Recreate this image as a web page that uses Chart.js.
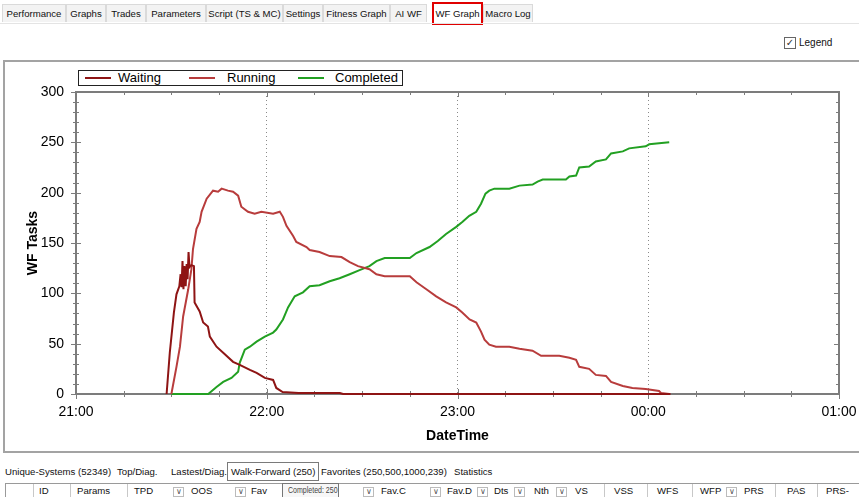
<!DOCTYPE html>
<html>
<head>
<meta charset="utf-8">
<script src="https://cdn.jsdelivr.net/npm/chart.js@4.4.1/dist/chart.umd.min.js"></script>
<style>
  html, body { margin: 0; padding: 0; background: #fff; }
  body { width: 859px; height: 497px; position: relative; overflow: hidden; font-family: "Liberation Sans", Arial, sans-serif; font-size: 9.6px; color: #111; }
  div, span { white-space: nowrap; }
  .abs { position: absolute; }
  .tab { position: absolute; top: 4px; height: 18px; line-height: 18px; background: #f3f3f3; border: 1px solid #dadada; border-bottom: none; box-sizing: border-box; text-align: center; }
  .tab.sel { background: #fff; border: 2px solid #e00000; top: 2px; height: 23px; line-height: 20px; }
  #panel { position: absolute; left: 3px; top: 60px; width: 900px; height: 393px; border: 2px solid #a3a3a3; box-sizing: border-box; }
  #chart { position: absolute; left: 4px; top: 62px; }
  #legend { position: absolute; left: 78px; top: 70px; width: 325px; height: 16px; border: 1px solid #222; box-sizing: border-box; background: #fff; font-family: "Liberation Sans", Arial, sans-serif; font-size: 13px; color: #000; }
  #legend .ln { position: absolute; top: 6px; height: 2px; width: 26px; }
  #legend .lt { position: absolute; top: -1px; line-height: 16px; }
  .btab { position: absolute; top: 462px; height: 19px; line-height: 19px; }
  .btab.sel { border: 1px solid #7a7a7a; box-sizing: border-box; padding: 0 3px; line-height: 17px; }
  .hd { position: absolute; top: 485px; line-height: 12px; }
  .dd { position: absolute; top: 487px; width: 11px; height: 10px; border: 1px solid #bbb; box-sizing: border-box; font-size: 8px; line-height: 8px; text-align: center; color: #555; }
  .sep { position: absolute; top: 484px; width: 1px; height: 13px; background: #c8c8c8; }
  #tip { position: absolute; left: 282px; top: 483px; width: 57px; height: 16px; border: 1px solid #767676; background: #f7f7f7; box-sizing: border-box; overflow: hidden; }
  #tip span { position: absolute; left: 5px; top: 0; font-size: 9px; line-height: 12px; color: #444; transform: scaleX(0.78); transform-origin: 0 0; }
</style>
</head>
<body>
<div class="tab" style="left:2px;width:64px">Performance</div>
<div class="tab" style="left:66px;width:40px">Graphs</div>
<div class="tab" style="left:106px;width:40px">Trades</div>
<div class="tab" style="left:146px;width:60px">Parameters</div>
<div class="tab" style="left:206px;width:77px">Script (TS &amp; MC)</div>
<div class="tab" style="left:283px;width:40px">Settings</div>
<div class="tab" style="left:323px;width:67px">Fitness Graph</div>
<div class="tab" style="left:390px;width:37px">AI WF</div>
<div class="tab sel" style="left:432px;width:51px">WF Graph</div>
<div class="tab" style="left:483px;width:50px">Macro Log</div>
<div class="abs" style="left:0;top:23px;width:859px;height:1px;background:#e4e4e4"></div>

<div class="abs" style="left:784px;top:37px;width:12px;height:12px;border:1px solid #666;box-sizing:border-box;font-family:'DejaVu Sans';font-size:10px;line-height:10px;text-align:center;color:#333">&#10003;</div>
<div class="abs" style="left:799px;top:35px;line-height:16px;font-size:10px">Legend</div>

<div id="panel"></div>
<canvas id="chart" width="855" height="392"></canvas>
<div id="legend">
  <span class="ln" style="left:6px;background:#8e1414"></span><span class="lt" style="left:39px">Waiting</span>
  <span class="ln" style="left:110px;background:#b83c3c"></span><span class="lt" style="left:148px">Running</span>
  <span class="ln" style="left:219px;background:#22a022"></span><span class="lt" style="left:256px">Completed</span>
</div>

<div class="btab" style="left:5px">Unique-Systems (52349)</div>
<div class="btab" style="left:117px">Top/Diag.</div>
<div class="btab" style="left:171px">Lastest/Diag.</div>
<div class="btab sel" style="left:227px">Walk-Forward (250)</div>
<div class="btab" style="left:321px">Favorites (250,500,1000,239)</div>
<div class="btab" style="left:454px">Statistics</div>

<div class="abs" style="left:5px;top:483px;width:860px;height:1px;background:#9a9a9a"></div>
<div class="abs" style="left:5px;top:483px;width:1px;height:14px;background:#9a9a9a"></div>
<div class="sep" style="left:33px"></div><div class="hd" style="left:39px">ID</div>
<div class="sep" style="left:70px"></div><div class="hd" style="left:77px">Params</div>
<div class="sep" style="left:127px"></div><div class="hd" style="left:134px">TPD</div>
<div class="dd" style="left:173px">&#8744;</div><div class="hd" style="left:191px">OOS</div>
<div class="dd" style="left:235px">&#8744;</div><div class="hd" style="left:251px">Fav</div>
<div class="dd" style="left:363px">&#8744;</div><div class="hd" style="left:381px">Fav.C</div>
<div class="dd" style="left:430px">&#8744;</div><div class="hd" style="left:447px">Fav.D</div>
<div class="dd" style="left:477px">&#8744;</div><div class="hd" style="left:494px">Dts</div>
<div class="dd" style="left:514px">&#8744;</div><div class="hd" style="left:534px">Nth</div>
<div class="dd" style="left:556px">&#8744;</div><div class="hd" style="left:575px">VS</div>
<div class="sep" style="left:604px"></div><div class="hd" style="left:614px">VSS</div>
<div class="sep" style="left:647px"></div><div class="hd" style="left:657px">WFS</div>
<div class="sep" style="left:692px"></div><div class="hd" style="left:700px">WFP</div>
<div class="dd" style="left:726px">&#8744;</div><div class="hd" style="left:744px">PRS</div>
<div class="sep" style="left:775px"></div><div class="hd" style="left:787px">PAS</div>
<div class="sep" style="left:817px"></div><div class="hd" style="left:826px">PRS-</div>
<div id="tip"><span>Completed: 250</span></div>

<script>
// minutes since 21:00
const waitingTimes = [28.5, 29.5, 30.8, 31.6, 32.5, 32.9, 33.2, 33.5, 33.8, 34.1, 34.5, 34.8, 35.1, 35.4, 35.7, 36.3, 37.1, 37.3, 38.9, 40, 41.5, 42.1, 44.2, 46.3, 49.4, 51.5, 54.7, 56.8, 59.4, 62, 63, 65, 70, 83, 84, 187];
const waitingValues = [0, 41, 81, 99, 107, 119, 106, 132, 104, 127, 107, 129, 114, 141, 126, 128, 127, 91, 82, 71, 67, 57, 47, 41, 32, 29, 24, 21, 16, 14, 6, 2, 1, 1, 0, 0];

const runningTimes = [30, 31.6, 32.7, 33.7, 35.3, 36.3, 36.8, 37.9, 38.9, 39.5, 41.1, 43.1, 44.7, 45.8, 47.8, 49.4, 51, 52, 54.1, 56.2, 58.3, 62, 64.1, 65.1, 66.2, 68.3, 69.3, 72.5, 73.5, 76.6, 79.8, 83.5, 86.1, 88.7, 92.3, 94.5, 97.1, 105, 107.1, 110.2, 113.3, 116.4, 119.6, 121.5, 123.8, 125.9, 127.4, 128.5, 130, 132.1, 136.3, 139.5, 143.6, 146.3, 152, 155.2, 157.3, 158.3, 161.4, 163.5, 166.7, 168.3, 172, 175, 179.2, 183.4, 184, 186.6];
const runningValues = [0, 27, 47, 77, 104, 124, 144, 164, 171, 181, 194, 202, 201, 204, 202, 201, 197, 186, 181, 179, 181, 179, 181, 176, 167, 157, 151, 146, 143, 141, 137, 136, 131, 127, 124, 119, 117, 117, 111, 104, 97, 91, 86, 81, 74, 71, 62, 54, 49, 47, 47, 45, 43, 38, 38, 36, 34, 27, 25, 19, 18, 12, 8, 6, 5, 3, 1, 0];

const completedTimes = [30, 41.6, 44.2, 46.3, 48.9, 51, 51.5, 53.1, 54.7, 56.8, 59.4, 62, 63, 65.1, 66.7, 68.8, 71.4, 73.5, 76.6, 79.8, 82.9, 86.1, 89.2, 92.3, 94.5, 97.1, 105, 107.1, 111.2, 113.8, 116.4, 119.6, 121.6, 123.7, 125.9, 127.4, 128.8, 130, 131.6, 136.3, 139.5, 143.6, 145.2, 146.8, 154.1, 155.2, 157.3, 158.3, 161.4, 163.5, 166.7, 168.3, 172, 174, 179.2, 180.3, 183.4, 186.6];
const completedValues = [0, 0, 7, 12, 16, 22, 31, 44, 47, 52, 57, 61, 64, 74, 86, 97, 101, 107, 108, 112, 115, 119, 123, 127, 132, 135, 135, 140, 146, 152, 159, 166, 171, 177, 181, 189, 199, 202, 204, 204, 207, 208, 211, 213, 213, 216, 217, 225, 226, 231, 233, 239, 241, 244, 246, 248, 249, 250];

const hourLabels = ["21:00", "22:00", "23:00", "00:00", "01:00"];

const pts = (ts, vs) => ts.map((t, i) => ({ x: t, y: vs[i] }));
const axisFont = { family: "'Liberation Sans', Arial, sans-serif", size: 14 };
const titleFont = { family: "'Liberation Sans', Arial, sans-serif", size: 14, weight: "bold" };

// ZedGraph-like frame with inside/outside tick marks
const frameTicks = {
  id: "frameTicks",
  beforeDatasetsDraw(chart) {
    const { ctx, chartArea: a, scales } = chart;
    ctx.save();
    ctx.strokeStyle = "#7c7c7c";
    ctx.lineWidth = 1;
    scales.x.ticks.forEach((t) => {
      const px = Math.round(scales.x.getPixelForValue(t.value)) + 0.5;
      const len = t.value % 60 === 0 ? 5 : 3;
      ctx.beginPath();
      ctx.moveTo(px, a.bottom - len);
      ctx.lineTo(px, a.bottom + len);
      ctx.moveTo(px, a.top);
      ctx.lineTo(px, a.top + len);
      ctx.stroke();
    });
    scales.y.ticks.forEach((t) => {
      const py = Math.round(scales.y.getPixelForValue(t.value)) + 0.5;
      const len = t.value % 50 === 0 ? 5 : 3;
      ctx.beginPath();
      ctx.moveTo(a.left - len, py);
      ctx.lineTo(a.left + len, py);
      ctx.moveTo(a.right - len, py);
      ctx.lineTo(a.right, py);
      ctx.stroke();
    });
    ctx.lineWidth = 2;
    ctx.strokeRect(Math.round(a.left), Math.round(a.top), Math.round(a.right - a.left), Math.round(a.bottom - a.top));
    ctx.restore();
  },
};

new Chart(document.getElementById("chart"), {
  type: "line",
  data: {
    datasets: [
      { label: "Waiting", data: pts(waitingTimes, waitingValues), borderColor: "#8e1414", borderWidth: 2, clip: false },
      { label: "Running", data: pts(runningTimes, runningValues), borderColor: "#b83c3c", borderWidth: 2, clip: false },
      { label: "Completed", data: pts(completedTimes, completedValues), borderColor: "#22a022", borderWidth: 2, clip: false },
    ],
  },
  options: {
    responsive: false,
    animation: false,
    devicePixelRatio: 1,
    elements: { point: { radius: 0 }, line: { tension: 0 } },
    layout: { padding: { top: 30, right: 0, left: 0, bottom: 0 } },
    plugins: { legend: { display: false }, tooltip: { enabled: false } },
    scales: {
      x: {
        type: "linear",
        min: 0,
        max: 240,
        afterFit: (s) => { s.height = 60; s.paddingLeft = 0; s.paddingRight = 20; },
        ticks: {
          stepSize: 15,
          autoSkip: false,
          maxRotation: 0,
          padding: 10,
          color: "#000",
          font: axisFont,
          callback: (v) => (v % 60 === 0 ? hourLabels[v / 60] : ""),
        },
        grid: {
          drawTicks: false,
          lineWidth: 1,
          color: (c) => (c.tick && c.tick.value % 60 === 0 && c.tick.value > 0 && c.tick.value < 240 ? "#8a8a8a" : "rgba(0,0,0,0)"),
        },
        border: { display: false, dash: [1, 3] },
        title: { display: true, text: "DateTime", color: "#000", font: titleFont, padding: { top: 0, bottom: 9 } },
      },
      y: {
        min: 0,
        max: 300,
        afterFit: (s) => { s.width = 72; },
        ticks: {
          stepSize: 10,
          autoSkip: false,
          padding: 12,
          color: "#000",
          font: axisFont,
          callback: (v) => (v % 50 === 0 ? v : ""),
        },
        grid: { display: false, drawTicks: false },
        border: { display: false },
        title: { display: true, text: "WF Tasks", color: "#000", font: titleFont, padding: { top: 21, bottom: 0 } },
      },
    },
  },
  plugins: [frameTicks],
});
</script>
</body>
</html>
